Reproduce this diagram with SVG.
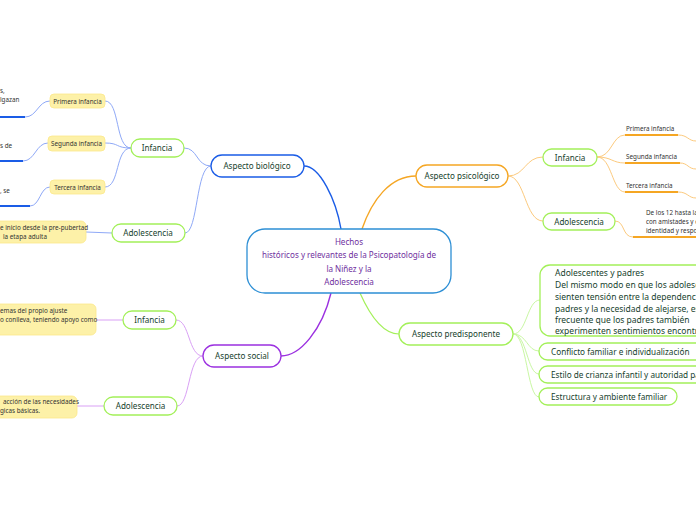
<svg xmlns="http://www.w3.org/2000/svg" width="696" height="520" viewBox="0 0 696 520">
<style>
.n{fill:#fff;stroke-width:1.3}
.t{font-family:"Noto Sans",sans-serif;font-size:8.1px;fill:#173f2e;text-anchor:middle}
.tl{font-family:"Noto Sans",sans-serif;font-size:8.5px;fill:#173f2e}
.s{font-family:"Noto Sans",sans-serif;font-size:6.3px;fill:#333}
.sm{font-family:"Noto Sans",sans-serif;font-size:6.3px;fill:#333;text-anchor:middle}
.y{fill:#fdf1a8;stroke:#fbe88a;stroke-width:0.8}
.g{stroke:#a3f059}
</style>
<rect width="696" height="520" fill="#fff"/>
<g id="connectors" fill="none">
<path d="M341,229 C336,200 320,166 304,166" stroke="#1a5ce6" stroke-width="1.4"/>
<path d="M362,229 C372,200 390,176 416,176" stroke="#f5a623" stroke-width="1.4"/>
<path d="M331,293 C322,330 300,356 281,356" stroke="#9b30e0" stroke-width="1.4"/>
<path d="M360,293 C372,320 385,334 399,334" stroke="#a3f059" stroke-width="1.2"/>
<g stroke="#8fa9f7" stroke-width="1">
<path d="M211,166 C196,166 198,148 184,148"/>
<path d="M211,166 C196,166 198,233 185,233"/>
<path d="M131,148 C115,148 120,101 105,101"/>
<path d="M131,148 C115,148 120,143 105,143"/>
<path d="M131,148 C115,148 120,187 105,187"/>
<path d="M50,101 C38,101 37,117 25,117"/>
<path d="M48,143 C36,143 35,161 23,161"/>
<path d="M50,187 C40,187 40,206 30,206"/>
<path d="M112,233 L86,232"/>
</g>
<g stroke="#1a5ce6" stroke-width="2">
<path d="M0,117 H25"/>
<path d="M0,161 H23"/>
<path d="M0,206 H30"/>
</g>
<g stroke="#d9a0f5" stroke-width="1">
<path d="M203,356 C188,356 190,320 176,320"/>
<path d="M203,356 C188,356 190,406 177,406"/>
<path d="M123,320 H96"/>
<path d="M104,406 H77"/>
</g>
<g stroke="#fcca7e" stroke-width="1">
<path d="M508,176 C525,176 525,157 543,157"/>
<path d="M508,176 C525,176 525,221 543,221"/>
<path d="M597,157 C612,157 612,135 625,135"/>
<path d="M597,157 C612,157 612,163 625,163"/>
<path d="M597,157 C612,157 612,192 625,192"/>
<path d="M678,135 C688,135 688,141 696,141"/>
<path d="M680,163 C688,163 688,169 696,169"/>
<path d="M678,192 C688,192 688,198 696,198"/>
<path d="M615,221 C625,221 622,237 633,237"/>
</g>
<g stroke="#f5a623" stroke-width="2">
<path d="M625,135 H678"/>
<path d="M625,163 H680"/>
<path d="M625,192 H678"/>
<path d="M633,237 H696"/>
</g>
<g stroke="#c9f7a3" stroke-width="1">
<path d="M513,334 C527,334 527,300 540,300"/>
<path d="M513,334 C527,334 527,351 539,351"/>
<path d="M513,334 C527,334 527,374 539,374"/>
<path d="M513,334 C527,334 527,397 539,397"/>
</g>
</g>
<g id="central">
<rect x="247" y="229" width="204" height="64" rx="18" class="n" stroke="#2d8fd5"/>
<text class="t" style="fill:#7030a0" x="349" y="245">Hechos</text>
<text class="t" style="fill:#7030a0" x="349" y="258">históricos y relevantes de la Psicopatología de</text>
<text class="t" style="fill:#7030a0" x="349" y="272">la Niñez y la</text>
<text class="t" style="fill:#7030a0" x="349" y="285">Adolescencia</text>
</g>
<g id="bio">
<rect x="211" y="155" width="93" height="22" rx="11" class="n" stroke="#1a5ce6"/>
<text class="t" x="257" y="169">Aspecto biológico</text>
</g>
<g id="bio-infancia">
<rect x="131" y="139" width="53" height="18" rx="9" class="n g"/>
<text class="t" x="157" y="151">Infancia</text>
</g>
<g id="bio-adolescencia">
<rect x="112" y="224" width="73" height="18" rx="9" class="n g"/>
<text class="t" x="148" y="236">Adolescencia</text>
</g>
<g id="bio-primera">
<rect x="50" y="94" width="55" height="14" rx="4" class="y"/>
<text class="sm" x="77.5" y="103.5">Primera infancia</text>
</g>
<g id="bio-segunda">
<rect x="48" y="136" width="57" height="15" rx="4" class="y"/>
<text class="sm" x="76.5" y="146">Segunda infancia</text>
</g>
<g id="bio-tercera">
<rect x="50" y="180" width="55" height="14" rx="4" class="y"/>
<text class="sm" x="77.5" y="189.5">Tercera infancia</text>
</g>
<g id="bio-leaf1">
<text class="s" x="0" y="93">s,</text>
<text class="s" x="0" y="102">lgazan</text>
</g>
<g id="bio-leaf2">
<text class="s" x="0" y="148">s de</text>
</g>
<g id="bio-leaf3">
<text class="s" x="0" y="193">, se</text>
</g>
<g id="bio-adol-leaf">
<rect x="-10" y="221" width="96" height="22" rx="5" class="y"/>
<text class="s" x="0" y="230">e inicio desde la pre-pubertad</text>
<text class="s" x="3" y="239">la etapa adulta</text>
</g>
<g id="social">
<rect x="203" y="345" width="78" height="22" rx="11" class="n" stroke="#9b30e0"/>
<text class="t" x="242" y="359">Aspecto social</text>
</g>
<g id="soc-infancia">
<rect x="123" y="311" width="53" height="18" rx="9" class="n g"/>
<text class="t" x="149.5" y="323">Infancia</text>
</g>
<g id="soc-adolescencia">
<rect x="104" y="397" width="73" height="18" rx="9" class="n g"/>
<text class="t" x="140.5" y="409">Adolescencia</text>
</g>
<g id="soc-inf-leaf">
<rect x="-10" y="304" width="106" height="31" rx="5" class="y"/>
<text class="s" x="0" y="313">emas del propio ajuste</text>
<text class="s" x="0" y="322">o conlleva, teniendo apoyo como</text>
</g>
<g id="soc-adol-leaf">
<rect x="-10" y="396" width="87" height="22" rx="5" class="y"/>
<text class="s" x="3" y="404">acción de las necesidades</text>
<text class="s" x="0" y="413">gicas básicas.</text>
</g>
<g id="psico">
<rect x="416" y="165" width="92" height="22" rx="11" class="n" stroke="#f5a623"/>
<text class="t" x="462" y="179">Aspecto psicológico</text>
</g>
<g id="psi-infancia">
<rect x="543" y="149" width="54" height="17" rx="8.5" class="n g"/>
<text class="t" x="570" y="160.5">Infancia</text>
</g>
<g id="psi-adolescencia">
<rect x="543" y="213" width="72" height="17" rx="8.5" class="n g"/>
<text class="t" x="579" y="224.5">Adolescencia</text>
</g>
<g id="psi-primera"><text class="s" x="626" y="131">Primera infancia</text></g>
<g id="psi-segunda"><text class="s" x="626" y="159">Segunda infancia</text></g>
<g id="psi-tercera"><text class="s" x="626" y="188">Tercera infancia</text></g>
<g id="psi-adol-leaf">
<text class="s" x="646" y="215">De los 12 hasta la</text>
<text class="s" x="646" y="224">con amistades y e</text>
<text class="s" x="646" y="233">identidad y respor</text>
</g>
<g id="predisp">
<rect x="399" y="323" width="114" height="22" rx="11" class="n g"/>
<text class="t" x="456" y="337">Aspecto predisponente</text>
</g>
<g id="pre-adol">
<rect x="540" y="265" width="170" height="71" rx="10" class="n g"/>
<text class="tl" x="555" y="276">Adolescentes y padres</text>
<text class="tl" x="555" y="288">Del mismo modo en que los adolesce</text>
<text class="tl" x="555" y="300">sienten tensión entre la dependencia</text>
<text class="tl" x="555" y="312">padres y la necesidad de alejarse, es</text>
<text class="tl" x="555" y="323">frecuente que los padres también</text>
<text class="tl" x="555" y="334">experimenten sentimientos encontra</text>
</g>
<g id="pre-conflicto">
<rect x="539" y="343" width="170" height="17" rx="8.5" class="n g"/>
<text class="tl" x="551" y="355" style="font-size:8.2px">Conflicto familiar e individualización</text>
</g>
<g id="pre-estilo">
<rect x="539" y="366" width="170" height="17" rx="8.5" class="n g"/>
<text class="tl" x="551" y="378" style="font-size:8.2px">Estilo de crianza  infantil y autoridad pa</text>
</g>
<g id="pre-estructura">
<rect x="539" y="388" width="138" height="17" rx="8.5" class="n g"/>
<text class="tl" x="551" y="400" style="font-size:8.2px">Estructura y ambiente familiar</text>
</g>
</svg>
